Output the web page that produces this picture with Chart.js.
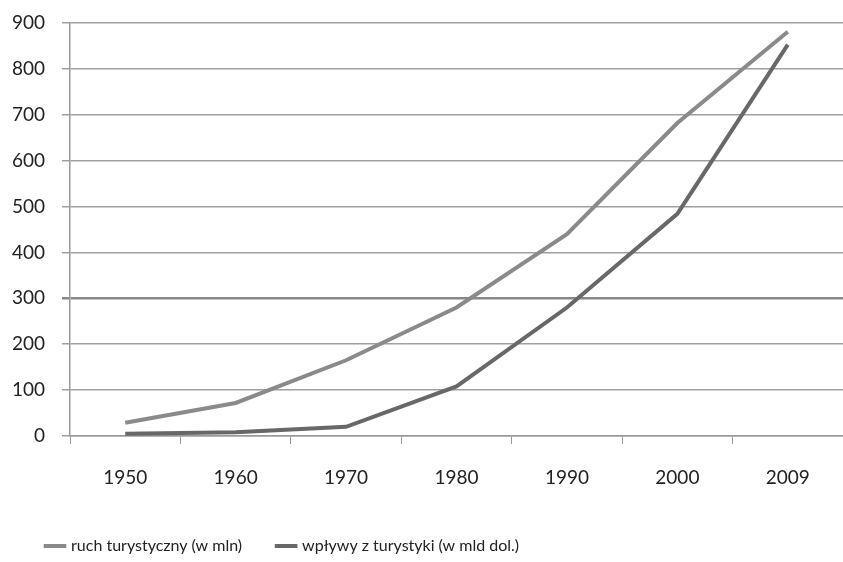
<!DOCTYPE html>
<html>
<head>
<meta charset="utf-8">
<script src="https://cdn.jsdelivr.net/npm/chart.js@4"></script>
<style>
  html, body { margin: 0; padding: 0; background: #fff; }
  #wrap { width: 843px; height: 562px; }
</style>
</head>
<body>
<div id="wrap"><canvas id="lineChart"></canvas></div>
<script>
var years = ['1950', '1960', '1970', '1980', '1990', '2000', '2009'];
var ruchTurystyczny = [29, 72, 165, 280, 440, 682, 881];
var wplywy = [5, 8, 20, 108, 280, 484, 853];
var yTicks = [0, 100, 200, 300, 400, 500, 600, 700, 800, 900];

var ctx = document.getElementById('lineChart').getContext('2d');
var myChart = new Chart(ctx, {
    type: 'line',
    data: {
        labels: years,
        datasets: [{
            label: 'ruch turystyczny (w mln)',
            data: ruchTurystyczny,
            borderColor: '#8a8a8a',
            backgroundColor: '#8a8a8a',
            borderWidth: 4,
            pointRadius: 0,
            tension: 0
        }, {
            label: 'wpływy z turystyki (w mld dol.)',
            data: wplywy,
            borderColor: '#686868',
            backgroundColor: '#686868',
            borderWidth: 4,
            pointRadius: 0,
            tension: 0
        }]
    },
    options: {
        responsive: true,
        maintainAspectRatio: false,
        animation: false,
        layout: { padding: { left: 11, right: 0, top: 2, bottom: 0 } },
        scales: {
            x: {
                offset: true,
                afterFit: function (axis) { axis.height = 66; },
                grid: { offset: true, drawOnChartArea: false, tickLength: 8, color: '#999' },
                border: { color: '#999', width: 1.5 },
                ticks: { color: '#222', padding: 22, font: { family: 'Lato', size: 19 } }
            },
            y: {
                min: 0,
                max: 900,
                afterFit: function (axis) { axis.width = 59; axis.paddingTop = 23; },
                afterBuildTicks: function (axis) {
                    axis.ticks = yTicks.map(function (v) { return { value: v }; });
                },
                grid: {
                    tickLength: 8,
                    lineWidth: function (c) { return c.tick && c.tick.value === 300 ? 2.5 : 1.5; },
                    color: function (c) { return c.tick && c.tick.value === 300 ? '#888' : '#a0a0a0'; }
                },
                border: { color: '#999', width: 1.5 },
                ticks: { color: '#222', padding: 17, font: { family: 'Lato', size: 19 } }
            }
        },
        plugins: {
            legend: {
                position: 'bottom',
                align: 'start',
                maxHeight: 60,
                labels: {
                    usePointStyle: true,
                    pointStyle: 'line',
                    boxWidth: 28,
                    padding: 36,
                    color: '#222',
                    font: { family: 'Lato', size: 16 }
                }
            },
            tooltip: { enabled: false }
        }
    }
});
</script>
</body>
</html>
